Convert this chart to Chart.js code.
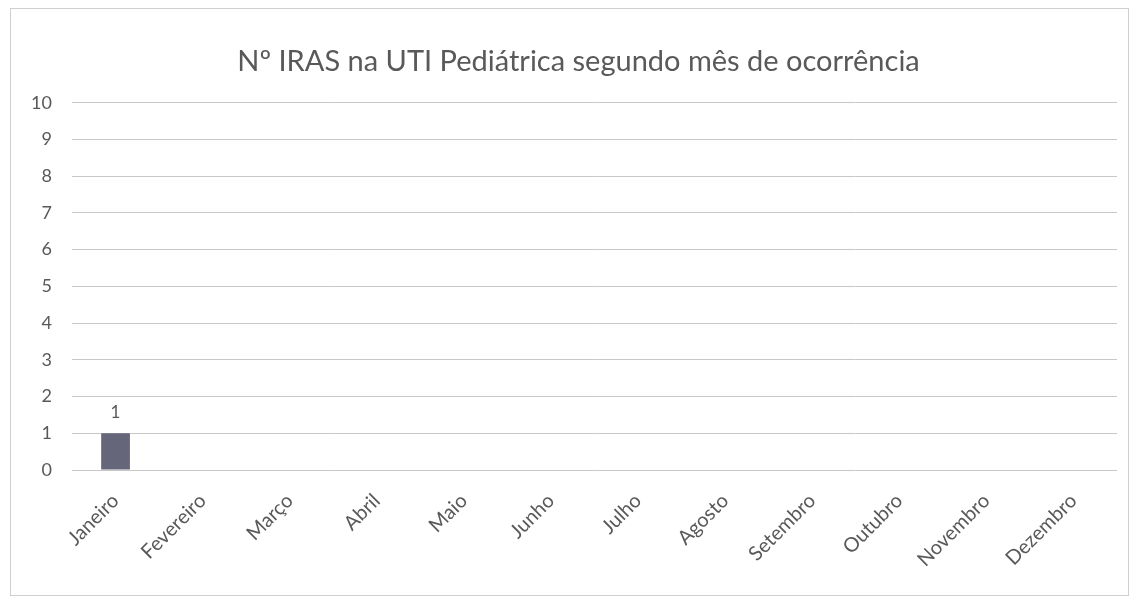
<!DOCTYPE html>
<html>
<head>
<meta charset="utf-8">
<script src="https://cdn.jsdelivr.net/npm/chart.js@4/dist/chart.umd.min.js"></script>
<style>
  html, body { margin: 0; padding: 0; background: #fff; }
  .frame {
    position: absolute;
    left: 10px; top: 8px;
    width: 1119px; height: 588px;
    border: 1px solid #cfcfcf;
    box-sizing: border-box;
  }
  canvas { position: absolute; left: 0; top: 0; }
</style>
</head>
<body>
<div class="frame"></div>
<canvas id="irasChart" width="1137" height="601"></canvas>
<script>
// Monthly IRAS counts, paediatric ICU
const months = ['Janeiro', 'Fevereiro', 'Março', 'Abril', 'Maio', 'Junho',
  'Julho', 'Agosto', 'Setembro', 'Outubro', 'Novembro', 'Dezembro'];
const irasCounts = [1, null, null, null, null, null, null, null, null, null, null, null];
const yTicks = [0, 1, 2, 3, 4, 5, 6, 7, 8, 9, 10];

const textColor = '#595959';
const fontFamily = 'Lato, "Open Sans", sans-serif';

// writes the value above each bar
const valueLabels = {
  id: 'valueLabels',
  afterDatasetsDraw(chart) {
    const ctx = chart.ctx;
    const meta = chart.getDatasetMeta(0);
    ctx.save();
    ctx.fillStyle = textColor;
    ctx.font = '17px ' + fontFamily;
    ctx.textAlign = 'center';
    ctx.textBaseline = 'bottom';
    meta.data.forEach((bar, i) => {
      const v = irasCounts[i];
      if (v === null || v === undefined) return;
      ctx.fillText(String(v), bar.x, bar.y - 12);
    });
    ctx.restore();
  }
};

// center the title over the plot area rather than the whole canvas
const titleOverPlot = {
  id: 'titleOverPlot',
  afterLayout(chart) {
    if (chart.titleBlock) chart.titleBlock.left = chart.chartArea.left - 32;
  }
};

new Chart(document.getElementById('irasChart'), {
  type: 'bar',
  data: {
    labels: months,
    datasets: [{
      data: irasCounts,
      backgroundColor: '#66667a',
      categoryPercentage: 0.66,
      barPercentage: 0.5
    }]
  },
  options: {
    responsive: false,
    animation: false,
    layout: { padding: { left: 10, right: 20, top: 27, bottom: 11 } },
    plugins: {
      legend: { display: false },
      tooltip: { enabled: false },
      title: {
        display: true,
        text: 'Nº IRAS na UTI Pediátrica segundo mês de ocorrência',
        color: textColor,
        font: { family: fontFamily, size: 29, weight: 'normal' },
        padding: { top: 17, bottom: 24 }
      }
    },
    scales: {
      x: {
        grid: { display: false },
        border: { display: false },
        afterFit(axis) { axis.height = 120; },
        ticks: {
          color: textColor,
          font: { family: fontFamily, size: 20 },
          maxRotation: 45,
          minRotation: 45,
          padding: 11
        }
      },
      y: {
        min: 0,
        max: 10,
        afterBuildTicks(axis) {
          axis.ticks = yTicks.map(v => ({ value: v }));
        },
        afterFit(axis) { axis.width = 62; },
        grid: { color: '#c8c8c8', drawTicks: false, lineWidth: 1 },
        border: { display: false },
        ticks: {
          color: textColor,
          font: { family: fontFamily, size: 18 },
          padding: 20
        }
      }
    }
  },
  plugins: [valueLabels, titleOverPlot]
});
</script>
</body>
</html>
